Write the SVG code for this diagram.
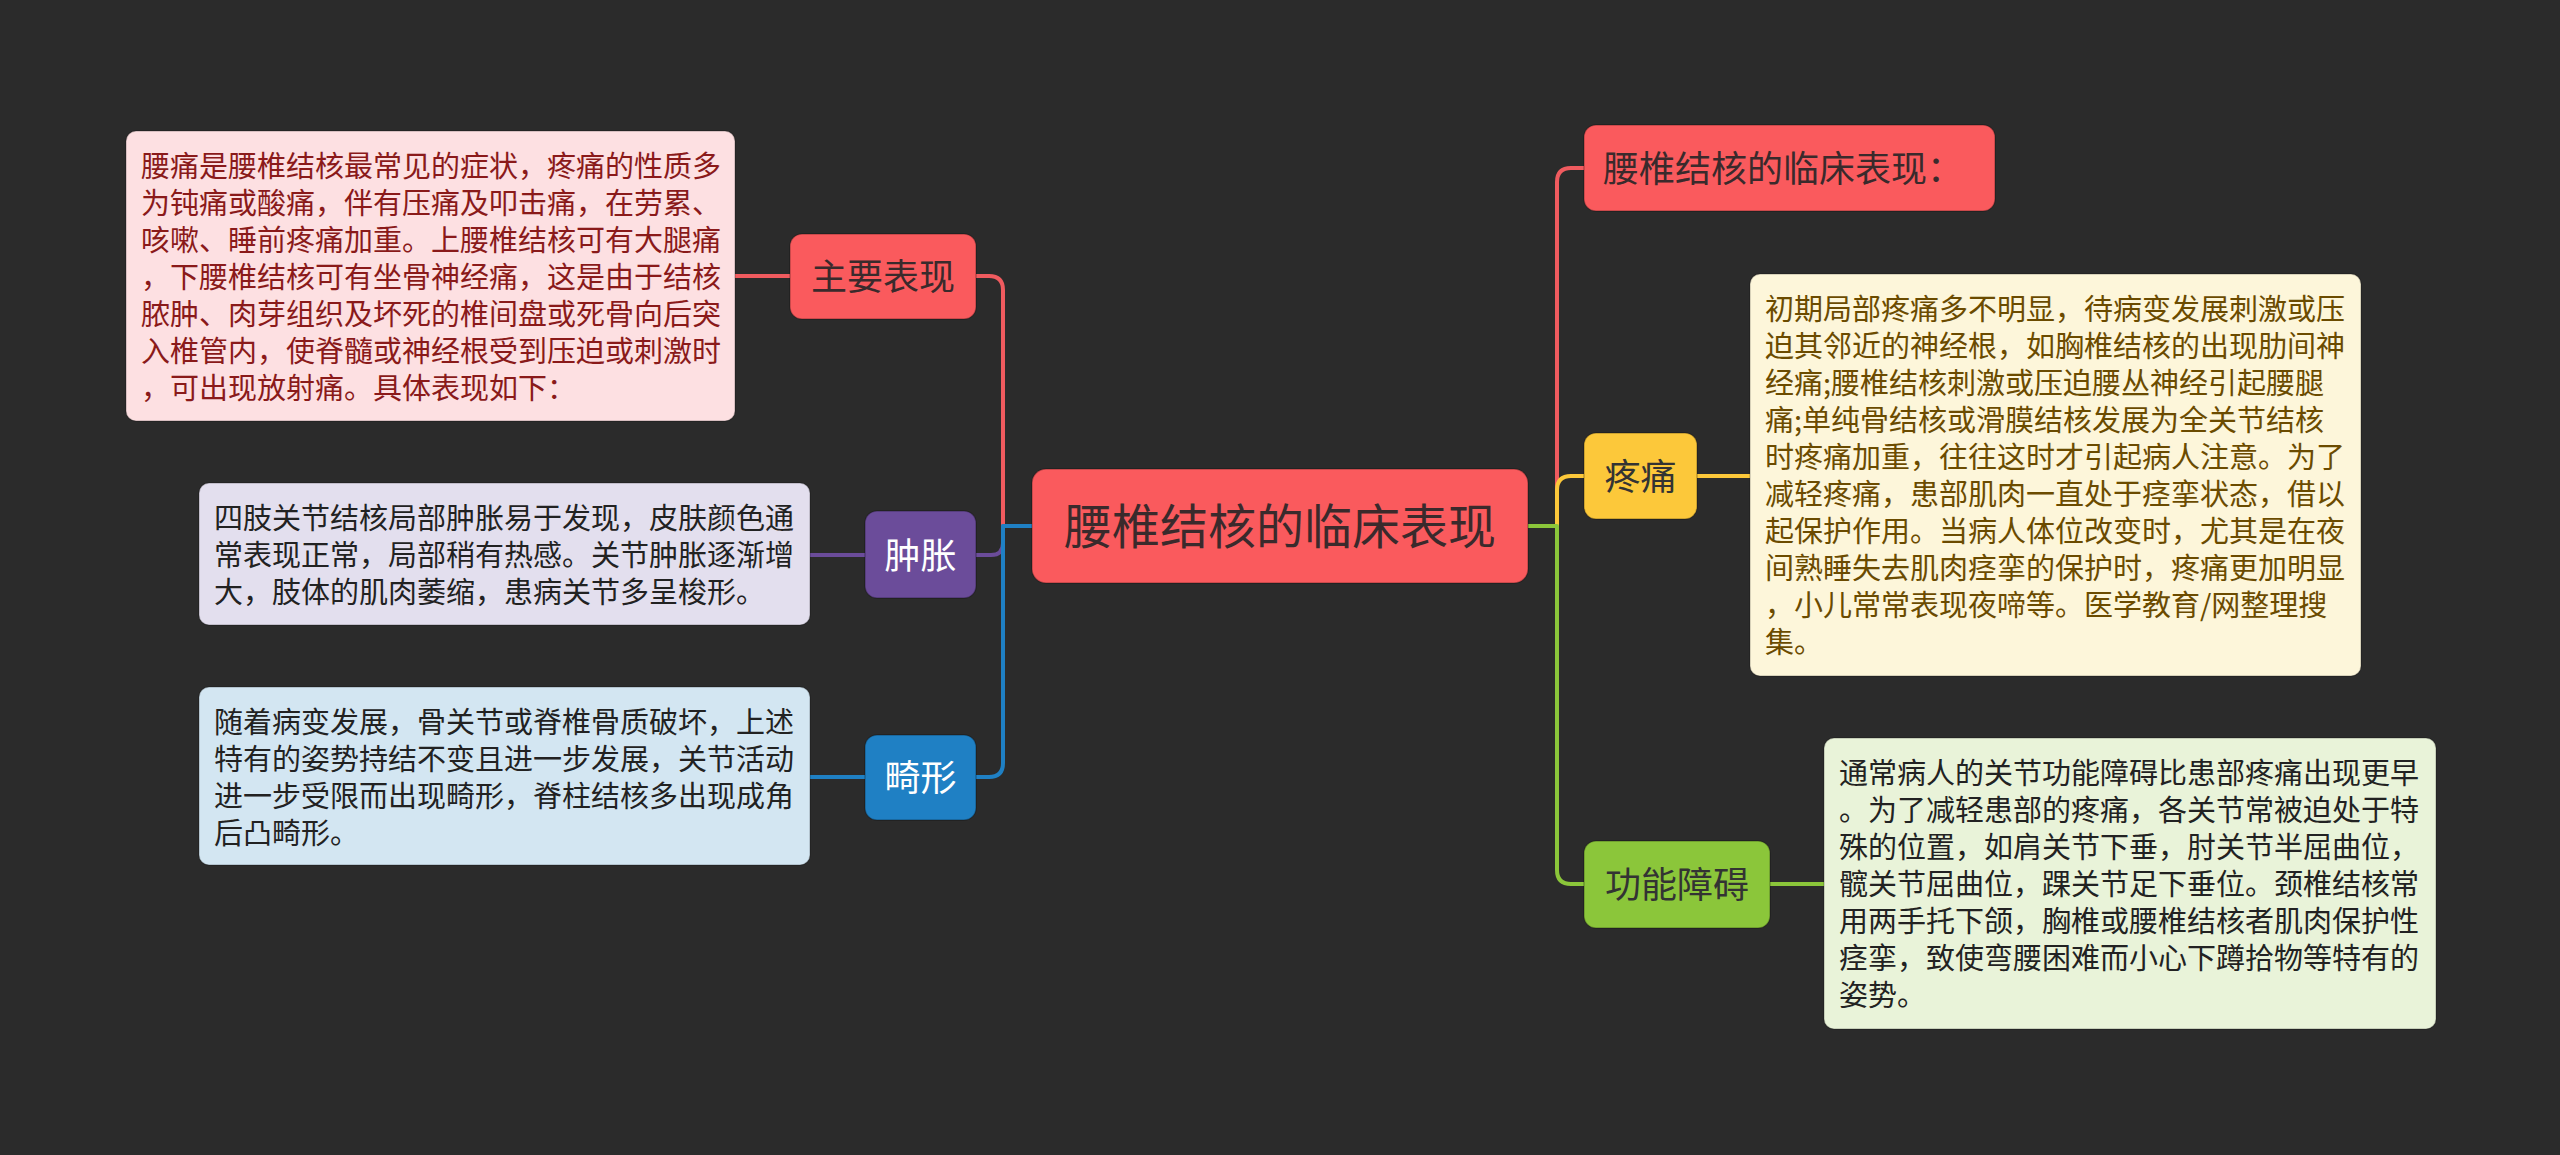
<svg xmlns="http://www.w3.org/2000/svg" width="2560" height="1155" viewBox="0 0 2560 1155">
<style>
.bg{fill:#2b2b2b}
.n{stroke:rgba(0,0,0,0.25);stroke-width:1.5}
.nt{font-family:"Noto Sans CJK SC","Noto Sans",sans-serif;font-size:36px;text-anchor:middle}
.bt{font-family:"Noto Sans CJK SC","Noto Sans",sans-serif;font-size:29px}
.c{fill:none;stroke-width:4;stroke-linecap:round;stroke-linejoin:round}
.box{stroke:rgba(0,0,0,0.2);stroke-width:1.5}
</style>
<rect class="bg" x="0" y="0" width="2560" height="1155"/>
<g id="connectors">
<path class="c" stroke="#f05b5f" d="M1032,526 H1003 V290 Q1003,276 989,276 H976"/>
<path class="c" stroke="#6b4c9a" d="M1032,526 H1003 V543 Q1003,555 991,555 H976"/>
<path class="c" stroke="#1f80c4" d="M1032,526 H1003 V763 Q1003,777 989,777 H976"/>
<path class="c" stroke="#f05b5f" d="M1528,526 H1557 V182 Q1557,168 1571,168 H1584"/>
<path class="c" stroke="#fcc83a" d="M1528,526 H1557 V490 Q1557,476 1571,476 H1584"/>
<path class="c" stroke="#8bc63a" d="M1528,526 H1557 V870 Q1557,884 1571,884 H1584"/>
<path class="c" stroke="#f05b5f" d="M790,276 H735"/>
<path class="c" stroke="#6b4c9a" d="M865,555 H810"/>
<path class="c" stroke="#1f80c4" d="M865,777 H810"/>
<path class="c" stroke="#fcc83a" d="M1697,476 H1750"/>
<path class="c" stroke="#8bc63a" d="M1770,884 H1824"/>
</g>
<g id="center">
<rect class="n" x="1032" y="469" width="496" height="114" rx="14" fill="#fa5a5d"/>
<text class="nt" x="1280" y="544" style="font-size:48px" fill="#3a2a2c">腰椎结核的临床表现</text>
</g>
<g id="n-main">
<rect class="n" x="790" y="234" width="186" height="85" rx="12" fill="#fa5a5d"/>
<text class="nt" x="883" y="290" fill="#3a2a2c">主要表现</text>
</g>
<g id="n-swell">
<rect class="n" x="865" y="511" width="111" height="87" rx="12" fill="#6b4c9a"/>
<text class="nt" x="920.5" y="568.5" fill="#ffffff">肿胀</text>
</g>
<g id="n-deform">
<rect class="n" x="865" y="735" width="111" height="85" rx="12" fill="#1f80c4"/>
<text class="nt" x="920.5" y="791" fill="#ffffff">畸形</text>
</g>
<g id="n-top">
<rect class="n" x="1584" y="125" width="411" height="86" rx="12" fill="#fa5a5d"/>
<text class="nt" x="1603" y="181.5" style="text-anchor:start" fill="#3a2a2c">腰椎结核的临床表现：</text>
</g>
<g id="n-pain">
<rect class="n" x="1584" y="433" width="113" height="86" rx="12" fill="#fcc83a"/>
<text class="nt" x="1640.5" y="489.5" fill="#333333">疼痛</text>
</g>
<g id="n-func">
<rect class="n" x="1584" y="841" width="186" height="87" rx="12" fill="#8bc63a"/>
<text class="nt" x="1677" y="898" fill="#333333">功能障碍</text>
</g>
<g id="t-main">
<rect class="box" x="126" y="131" width="609" height="290" rx="10" fill="#fde0e2"/>
<text class="bt" fill="#8a1a1a"><tspan x="141" y="176.5">腰痛是腰椎结核最常见的症状，疼痛的性质多</tspan><tspan x="141" dy="37">为钝痛或酸痛，伴有压痛及叩击痛，在劳累、</tspan><tspan x="141" dy="37">咳嗽、睡前疼痛加重。上腰椎结核可有大腿痛</tspan><tspan x="141" dy="37">，下腰椎结核可有坐骨神经痛，这是由于结核</tspan><tspan x="141" dy="37">脓肿、肉芽组织及坏死的椎间盘或死骨向后突</tspan><tspan x="141" dy="37">入椎管内，使脊髓或神经根受到压迫或刺激时</tspan><tspan x="141" dy="37">，可出现放射痛。具体表现如下：</tspan></text>
</g>
<g id="t-swell">
<rect class="box" x="199" y="483" width="611" height="142" rx="10" fill="#e3dfee"/>
<text class="bt" fill="#222222"><tspan x="214" y="528.5">四肢关节结核局部肿胀易于发现，皮肤颜色通</tspan><tspan x="214" dy="37">常表现正常，局部稍有热感。关节肿胀逐渐增</tspan><tspan x="214" dy="37">大，肢体的肌肉萎缩，患病关节多呈梭形。</tspan></text>
</g>
<g id="t-deform">
<rect class="box" x="199" y="687" width="611" height="178" rx="10" fill="#d3e6f2"/>
<text class="bt" fill="#222222"><tspan x="214" y="732.5">随着病变发展，骨关节或脊椎骨质破坏，上述</tspan><tspan x="214" dy="37">特有的姿势持结不变且进一步发展，关节活动</tspan><tspan x="214" dy="37">进一步受限而出现畸形，脊柱结核多出现成角</tspan><tspan x="214" dy="37">后凸畸形。</tspan></text>
</g>
<g id="t-pain">
<rect class="box" x="1750" y="274" width="611" height="402" rx="10" fill="#fdf6da"/>
<text class="bt" fill="#6b4b00"><tspan x="1765" y="319.5">初期局部疼痛多不明显，待病变发展刺激或压</tspan><tspan x="1765" dy="37">迫其邻近的神经根，如胸椎结核的出现肋间神</tspan><tspan x="1765" dy="37">经痛;腰椎结核刺激或压迫腰丛神经引起腰腿</tspan><tspan x="1765" dy="37">痛;单纯骨结核或滑膜结核发展为全关节结核</tspan><tspan x="1765" dy="37">时疼痛加重，往往这时才引起病人注意。为了</tspan><tspan x="1765" dy="37">减轻疼痛，患部肌肉一直处于痉挛状态，借以</tspan><tspan x="1765" dy="37">起保护作用。当病人体位改变时，尤其是在夜</tspan><tspan x="1765" dy="37">间熟睡失去肌肉痉挛的保护时，疼痛更加明显</tspan><tspan x="1765" dy="37">，小儿常常表现夜啼等。医学教育/网整理搜</tspan><tspan x="1765" dy="37">集。</tspan></text>
</g>
<g id="t-func">
<rect class="box" x="1824" y="738" width="612" height="291" rx="10" fill="#e9f3d9"/>
<text class="bt" fill="#222222"><tspan x="1839" y="783.5">通常病人的关节功能障碍比患部疼痛出现更早</tspan><tspan x="1839" dy="37">。为了减轻患部的疼痛，各关节常被迫处于特</tspan><tspan x="1839" dy="37">殊的位置，如肩关节下垂，肘关节半屈曲位，</tspan><tspan x="1839" dy="37">髋关节屈曲位，踝关节足下垂位。颈椎结核常</tspan><tspan x="1839" dy="37">用两手托下颌，胸椎或腰椎结核者肌肉保护性</tspan><tspan x="1839" dy="37">痉挛，致使弯腰困难而小心下蹲拾物等特有的</tspan><tspan x="1839" dy="37">姿势。</tspan></text>
</g>
</svg>
